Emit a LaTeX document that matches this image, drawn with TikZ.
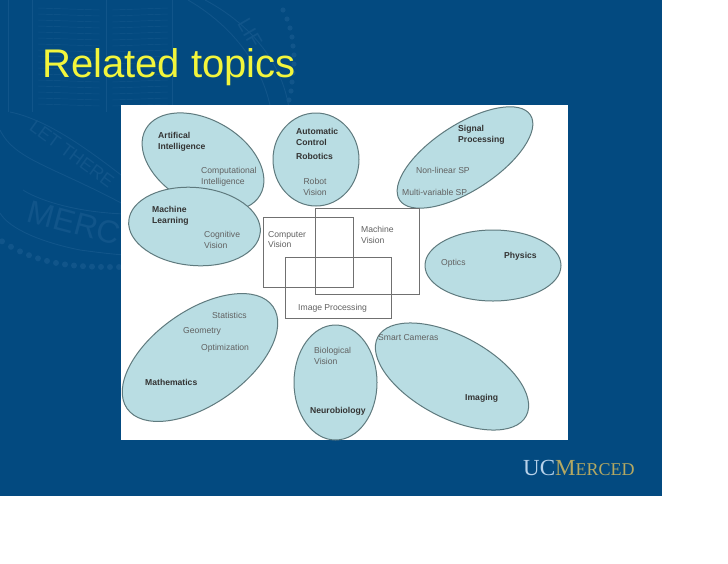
\documentclass[tikz,border=0pt]{standalone}
\usepackage{fontspec}
\setmainfont{Liberation Sans}
\newfontfamily\serifface{Liberation Serif}
\usetikzlibrary{shapes.geometric}
\definecolor{slide}{HTML}{034A80}
\definecolor{seal}{HTML}{11558A}
\definecolor{blob}{HTML}{B9DDE3}
\definecolor{blobline}{HTML}{5F7A7E}
\definecolor{boxline}{HTML}{707070}
\definecolor{titlecol}{HTML}{F2F53C}
\definecolor{logoblue}{HTML}{B8D2EA}
\definecolor{logogold}{HTML}{B4A862}
\tikzset{
  blobby/.style={ellipse,draw=blobline,fill=blob,line width=1pt,inner sep=0pt,minimum width=#1},
  regionbox/.style={rectangle,draw=boxline,line width=0.9pt,inner sep=0pt},
  strong/.style={font=\fontsize{8.6}{10.6}\selectfont\bfseries,text=black!80,align=left,anchor=north west,inner sep=0pt},
  plain/.style={font=\fontsize{8.6}{10.6}\selectfont,text=black!62,align=left,anchor=north west,inner sep=0pt},
  sealtext/.style={text=seal,inner sep=0pt},
  sealline/.style={draw=seal,line width=0.9pt}
}
\begin{document}
\begin{tikzpicture}[x=1pt,y=-1pt]
\useasboundingbox (0,0) rectangle (728,563);
\fill[white] (0,0) rectangle (728,563);
\fill[slide] (0,0) rectangle (662,496);
% faint seal in the background
\begin{scope}
\clip (0,0) rectangle (662,496);
\foreach \yy in {8,14,...,104}{
  \draw[sealline,line width=0.45pt] (38,\yy) -- (100,\yy+2);
  \draw[sealline,line width=0.45pt] (112,\yy+2) -- (168,\yy);
}
\draw[sealline] (8,0) -- (8,112) (32,0) -- (32,112) (106,0) -- (106,112) (172,0) -- (172,112);
\draw[sealline] (205,0) .. controls (262,30) and (300,85) .. (288,150);
\draw[sealline] (188,0) .. controls (240,30) and (280,85) .. (272,150);
\foreach \px/\py in {283/10,287/19,290/28,292/37,293/46,294/55,294/64,293/73,292/82,291/91,289/100}{
  \fill[seal] (\px,\py) circle (2.6pt);
}
\foreach \xx in {2,11,...,120}{
  \pgfmathsetmacro{\yy}{240+27*(1-(1-\xx/120)^3)}
  \fill[seal] (\xx,\yy) circle (3pt);
}
\draw[sealline] (10,112) .. controls (50,120) and (95,155) .. (125,178);
\draw[sealline] (0,130) .. controls (15,160) and (50,165) .. (125,205);
\draw[sealline] (23,190) .. controls (35,198) and (70,212) .. (125,214);
\draw[sealline] (0,213) .. controls (10,230) and (45,243) .. (80,250) .. controls (95,252) and (110,254) .. (125,255);
\node[sealtext,rotate=-36,font=\fontsize{18}{18}\selectfont] (sealone) at (72,154) {LET THERE};
\node[sealtext,rotate=-15,font=\fontsize{32}{32}\selectfont] (sealtwo) at (74,223) {MERC};
\node[sealtext,rotate=-60,font=\fontsize{20}{20}\selectfont] (sealthree) at (250,33) {LIF};
\end{scope}
\node[anchor=base west,inner sep=0pt,text=titlecol,font=\fontsize{40}{40}\selectfont] (title) at (42,77) {Related topics};
% picture panel
\fill[white] (121,105) rectangle (568,440);
\begin{scope}
\clip (121,105) rectangle (568,440);
\node[blobby=132pt,minimum height=84pt,rotate=-30] (ai) at (203,162) {};
\node[blobby=132pt,minimum height=78pt,rotate=-5] (ml) at (194.5,226.5) {};
\node[blobby=86pt,minimum height=93pt] (ac) at (316,159.5) {};
\node[blobby=156pt,minimum height=66pt,rotate=33] (sp) at (465,157.5) {};
\node[blobby=136pt,minimum height=71pt] (ph) at (493,265.5) {};
\node[blobby=178pt,minimum height=94pt,rotate=35] (ma) at (200,357.5) {};
\node[blobby=83pt,minimum height=115pt] (ne) at (335.5,382.5) {};
\node[blobby=168pt,minimum height=82pt,rotate=-28] (im) at (452,376.5) {};
\end{scope}
\node[regionbox,minimum width=90pt,minimum height=70pt] (cv) at (308,252) {};
\node[regionbox,minimum width=104pt,minimum height=86pt] (mv) at (367,251) {};
\node[regionbox,minimum width=106pt,minimum height=61pt] (ip) at (338,287.5) {};
% labels
\node[strong] (t1) at (158,132) {Artifical\\Intelligence};
\node[plain] (t2) at (201,167.5) {Computational\\Intelligence};
\node[strong] (t3) at (152,206) {Machine\\Learning};
\node[plain] (t4) at (204,231) {Cognitive\\Vision};
\node[strong] (t5) at (296,128.5) {Automatic\\Control};
\node[strong] (t6) at (296,153.5) {Robotics};
\node[plain,align=center,anchor=north] (t7) at (315,178) {Robot\\Vision};
\node[plain] (t8) at (268,231) {Computer\\Vision};
\node[plain] (t9) at (361,226) {Machine\\Vision};
\node[plain] (t10) at (298,304) {Image Processing};
\node[strong] (t11) at (458,125) {Signal\\Processing};
\node[plain] (t12) at (416,167.5) {Non-linear SP};
\node[plain] (t13) at (402,189) {Multi-variable SP};
\node[plain] (t14) at (441,259) {Optics};
\node[strong] (t15) at (504,252.5) {Physics};
\node[plain] (t16) at (212,312) {Statistics};
\node[plain] (t17) at (183,327) {Geometry};
\node[plain] (t18) at (201,344) {Optimization};
\node[strong] (t19) at (145,379) {Mathematics};
\node[plain] (t20) at (314,347.5) {Biological\\Vision};
\node[strong] (t21) at (310,407.5) {Neurobiology};
\node[plain] (t22) at (378,334) {Smart Cameras};
\node[strong] (t23) at (465,394) {Imaging};
% logo
\node[anchor=west,inner sep=0pt,font=\serifface] (logo) at (523,468) {\textcolor{logoblue}{\fontsize{23}{23}\selectfont UC}\textcolor{logogold}{\fontsize{23}{23}\selectfont M\fontsize{18}{23}\selectfont ERCED}};
\end{tikzpicture}
\end{document}
